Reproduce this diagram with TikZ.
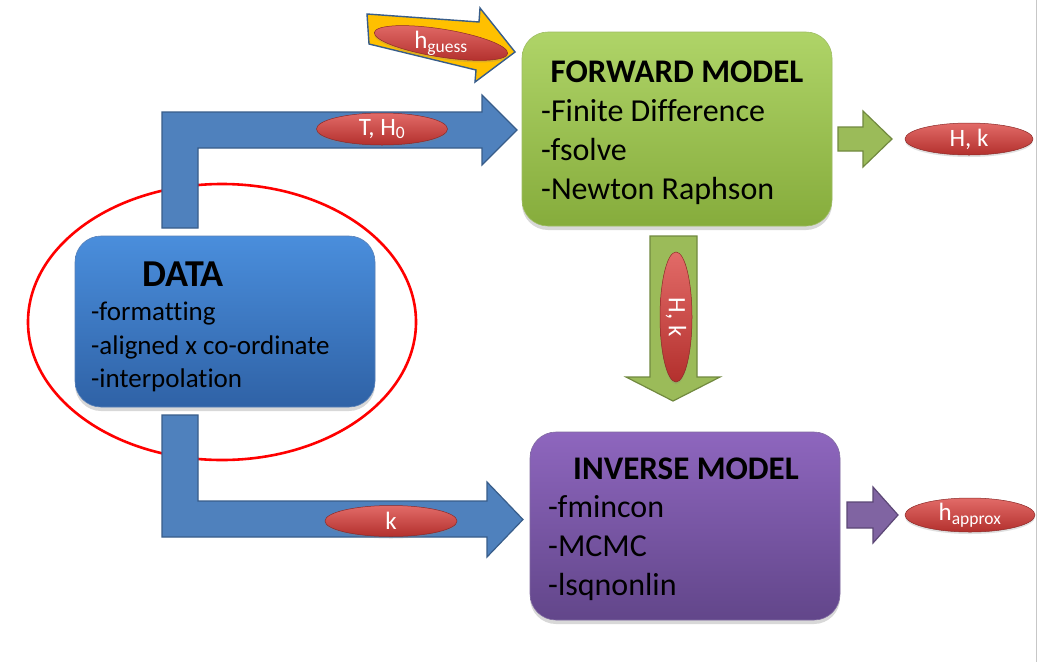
\documentclass[tikz,border=0pt]{standalone}
\usepackage{fontspec}
\setmainfont[Ligatures=NoCommon]{Carlito}
\usetikzlibrary{shapes.geometric,shadows}
\definecolor{bluefill}{HTML}{4F81BD}
\definecolor{blueline}{HTML}{385D8A}
\definecolor{greenfill}{HTML}{9BBB59}
\definecolor{greenline}{HTML}{71893F}
\definecolor{purplefill}{HTML}{8064A2}
\definecolor{purpleline}{HTML}{5C4776}
\definecolor{gold}{HTML}{FFC000}
\definecolor{redtop}{HTML}{E26B68}
\definecolor{redbot}{HTML}{B3302D}
\definecolor{redline}{HTML}{8C2A28}
\definecolor{datatop}{HTML}{4A8EDC}
\definecolor{databot}{HTML}{2F62A6}
\definecolor{fwdtop}{HTML}{AFD468}
\definecolor{fwdbot}{HTML}{86AC3C}
\definecolor{invtop}{HTML}{8E66BE}
\definecolor{invbot}{HTML}{62468A}
\tikzset{
  mbox/.style={rounded corners=26pt, minimum width=#1, inner sep=0pt,
    drop shadow={shadow xshift=0pt, shadow yshift=-4pt, opacity=.3}},
  bluearrow/.style={fill=bluefill, draw=blueline, line width=1.2pt, line join=miter},
  greenarrow/.style={fill=greenfill, draw=greenline, line width=1.2pt, line join=miter},
  purplearrow/.style={fill=purplefill, draw=purpleline, line width=1.2pt, line join=miter},
  pill/.style={ellipse, draw=redline, line width=0.5pt, top color=redtop, bottom color=redbot,
    inner sep=0pt, text=white, font=\fontsize{25}{28}\selectfont,
    drop shadow={shadow xshift=0pt, shadow yshift=-2pt, opacity=.25}},
  ttl/.style={font=\fontsize{33}{38}\selectfont\bfseries, inner sep=0pt},
  items/.style={font=\fontsize{32}{39}\selectfont, align=left, inner sep=0pt, anchor=north west},
  ditems/.style={font=\fontsize{27}{33.5}\selectfont, align=left, inner sep=0pt, anchor=north west},
}
\begin{document}
\begin{tikzpicture}[x=1pt,y=-1pt]
\useasboundingbox (0,0) rectangle (1038,662);
\fill[white] (0,0) rectangle (1038,662);
\draw[black!22, line width=1pt] (1036,0) -- (1036,662);

% boxes
\node[mbox=310pt, minimum height=194pt, top color=fwdtop, bottom color=fwdbot, draw=fwdbot!80!white, line width=0.6pt] (fwd) at (677,129) {};
\node[mbox=300pt, minimum height=171pt, top color=datatop, bottom color=databot, draw=databot!80!white, line width=0.6pt] (data) at (225,321.5) {};
\node[mbox=310pt, minimum height=188pt, top color=invtop, bottom color=invbot, draw=invbot!80!white, line width=0.6pt] (inv) at (685,526) {};

% texts
\node[ttl] (fwdttl) at (677,72) {FORWARD MODEL};
\node[items] (fwdlist) at (541,99.5) {-Finite Difference\\-fsolve\\-Newton Raphson};
\node[ttl, font=\fontsize{38}{40}\selectfont\bfseries] (datattl) at (183,274) {DATA};
\node[ditems] (datalist) at (91,302) {-formatting\\-aligned x co-ordinate\\-interpolation};
\node[ttl] (invttl) at (686,469) {INVERSE MODEL};
\node[items] (invlist) at (548,495) {-fmincon\\-MCMC\\-lsqnonlin};

% red ellipse
\draw[red, line width=2.6pt] (222,322) ellipse [x radius=194pt, y radius=138pt];

% blue elbow arrows
\draw[bluearrow] (162,228) -- (162,112) -- (482,112) -- (482,95) -- (517,130) -- (482,165) -- (482,148) -- (198,148) -- (198,228) -- cycle;
\draw[bluearrow] (162,415) -- (162,537) -- (487,537) -- (487,557) -- (523,519.5) -- (487,482) -- (487,501) -- (198,501) -- (198,415) -- cycle;

% yellow guess arrow
\draw[fill=gold, draw=blueline, line width=1.4pt, line join=miter] (367,14) -- (479,22) -- (480,8) -- (515,52) -- (475,82) -- (476,70) -- (369,44) -- cycle;

% green arrows
\draw[greenarrow] (650,236) -- (697,236) -- (697,377) -- (720,377) -- (673,401) -- (626,377) -- (650,377) -- cycle;
\draw[greenarrow] (838,127) -- (863,127) -- (863,111) -- (892,139) -- (863,167) -- (863,151) -- (838,151) -- cycle;

% purple arrow
\draw[purplearrow] (847,502) -- (873,502) -- (873,487) -- (898,515) -- (873,543) -- (873,528) -- (847,528) -- cycle;

% labels
\node[pill, minimum width=131pt, minimum height=32pt] (th) at (382,129) {T, H\textsubscript{0}};
\node[pill, minimum width=132pt, minimum height=31pt] (kl) at (391,521) {k};
\node[pill, minimum width=128pt, minimum height=32pt] (hk1) at (969,139) {H, k};
\node[pill, minimum width=130pt, minimum height=32pt, rotate=-90] (hk2) at (676,317) {H, k};
\node[pill, minimum width=130pt, minimum height=34pt] (ha) at (970,515) {h\textsubscript{approx}};
\node[pill, minimum width=135pt, minimum height=28pt, rotate=-9] (hg) at (441,43) {};
\node[text=white, font=\fontsize{25}{26}\selectfont, inner sep=0pt] (hgt) at (hg.center) {h\textsubscript{guess}};
\end{tikzpicture}
\end{document}
